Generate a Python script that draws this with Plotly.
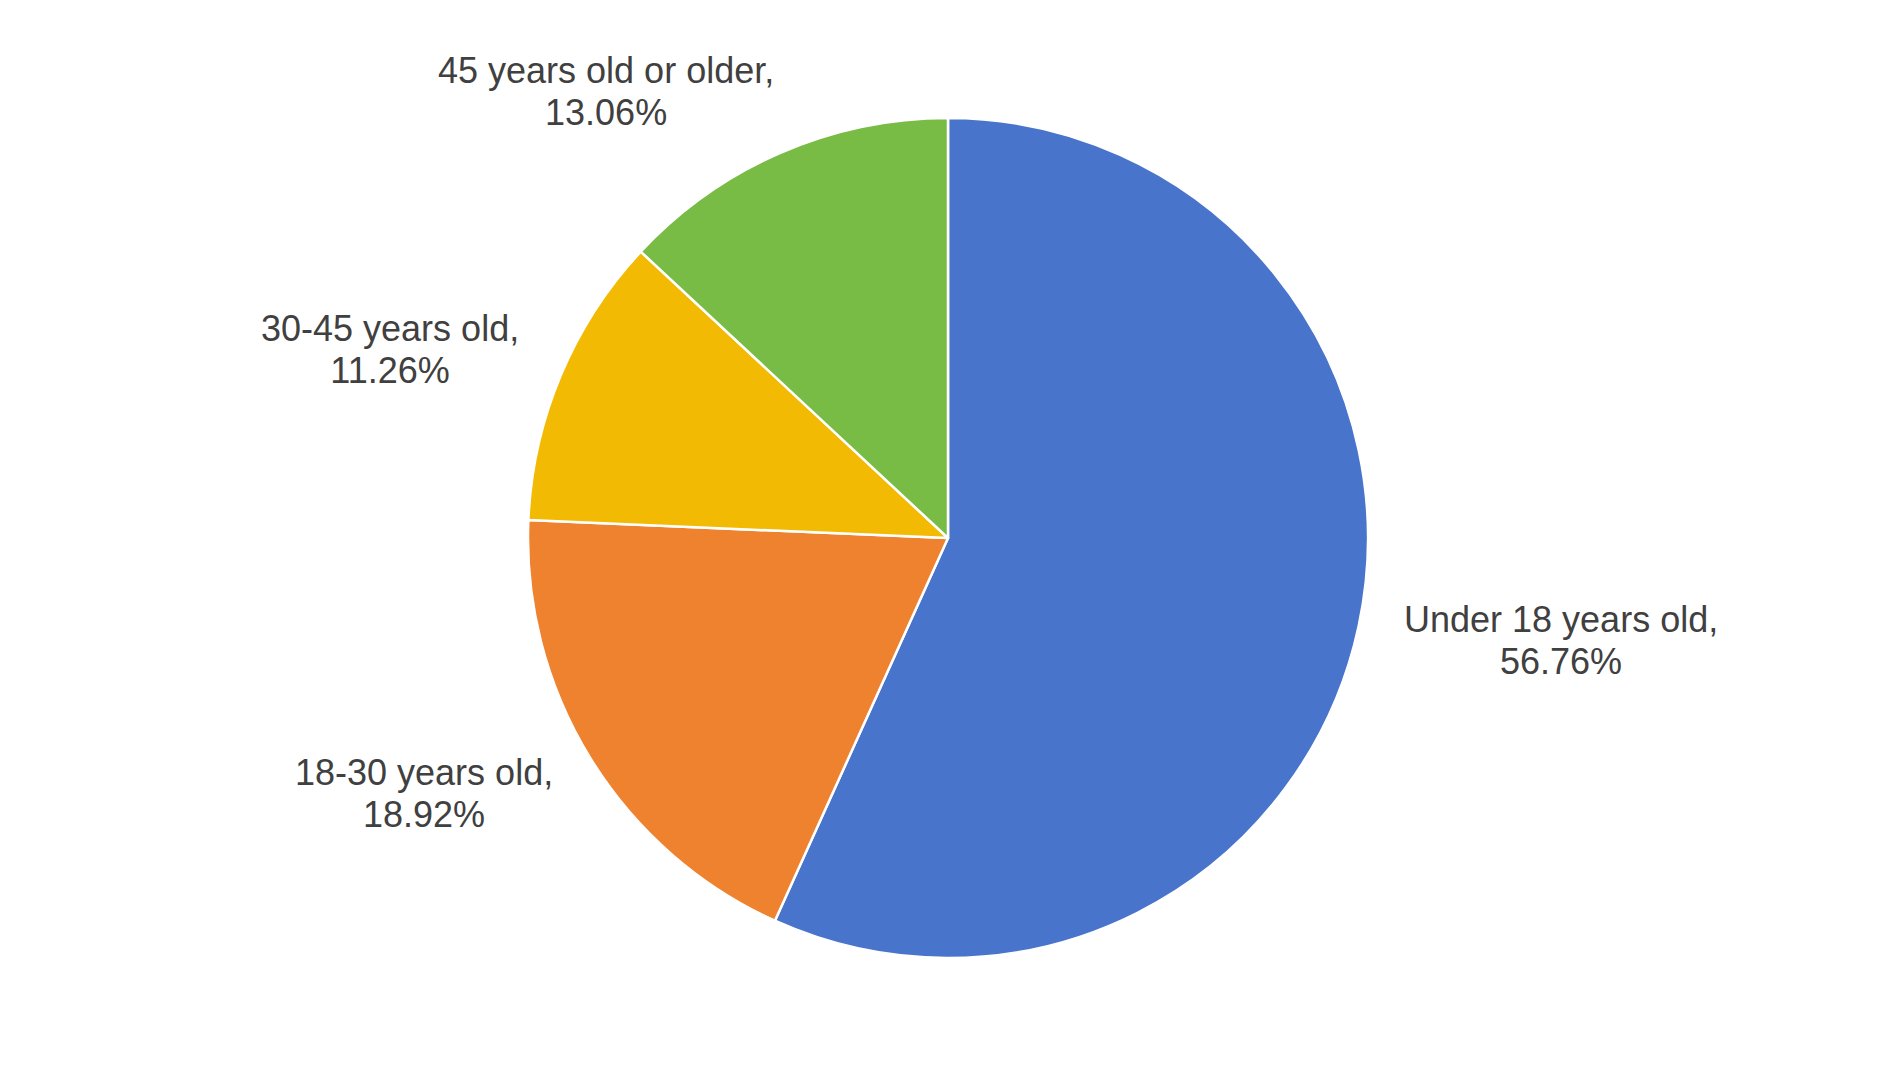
import math
import plotly.graph_objects as go

categories = ["Under 18 years old", "18-30 years old", "30-45 years old", "45 years old or older"]
shares = [56.76, 18.92, 11.26, 13.06]
colors = ["#4874CB", "#EE822F", "#F2BA02", "#78BB45"]

W, H = 1897, 1078
# page has an 8px body margin; geometry below is in figure pixels
cx, cy, r = 940, 530, 420

dom_x = [(cx - r) / W, (cx + r) / W]
dom_y = [(H - cy - r) / H, (H - cy + r) / H]

fig = go.Figure(go.Pie(
    labels=categories,
    values=shares,
    sort=False,
    direction="clockwise",
    rotation=0,
    marker=dict(colors=colors, line=dict(color="white", width=2.5)),
    textinfo="none",
    hoverinfo="label+value",
    showlegend=False,
    domain=dict(x=dom_x, y=dom_y),
))

FONT = "Liberation Sans, Arial, sans-serif"
total = sum(shares)
annotations = []
acc = 0.0
for cat, v in zip(categories, shares):
    mid = (acc + v / 2) / total * 2 * math.pi
    acc += v
    dist = 1.16 * r
    sx = math.sin(mid)
    px = cx + dist * sx
    py = (H - cy) + dist * math.cos(mid)
    right_side = sx >= 0
    line1 = f'<span style="font-size:36px">{cat},</span>'
    line2 = f'<span style="font-size:36px">{v:.2f}%</span>'
    annotations.append(dict(
        x=px / W, y=py / H, xref="paper", yref="paper",
        text=f"{line1}<br>{line2}", showarrow=False,
        xanchor="left" if right_side else "right",
        xshift=-22 if right_side else 22,
        yanchor="middle", align="center",
        font=dict(family=FONT, size=32, color="#404040"),
    ))

fig.update_layout(
    width=W, height=H,
    margin=dict(l=0, r=0, t=0, b=0),
    paper_bgcolor="white",
    plot_bgcolor="white",
    annotations=annotations,
)

fig.write_html("out.html")
